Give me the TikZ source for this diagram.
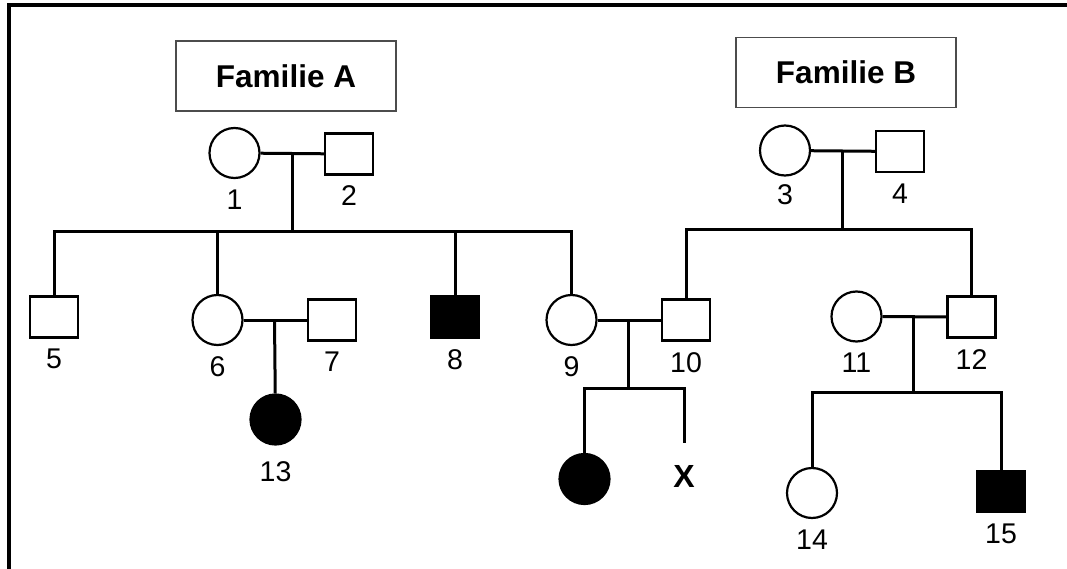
\documentclass[tikz,border=0pt]{standalone}
\usepackage{fontspec}
\setmainfont{Liberation Sans}
\usetikzlibrary{positioning}

\begin{document}
\begin{tikzpicture}[x=1pt, y=-1pt, line width=3pt, label distance=9pt,
		female/.style={circle, draw, line width=2.2pt, minimum size=50pt, inner sep=0pt},
		male/.style={rectangle, draw, line width=2.2pt, minimum width=48pt, minimum height=41pt, inner sep=0pt},
		ill/.style={fill=black},
		family/.style={draw=black!70, line width=1.2pt, minimum width=220pt, minimum height=70pt, font=\fontsize{31.5}{34}\selectfont\bfseries},
		every label/.style={font=\fontsize{28.5}{30}\selectfont, inner sep=0pt}]
			\useasboundingbox (0,0) rectangle (1067,569);
			\draw[line width=4pt] (9,569) -- (9,5.5) -- (1067,5.5);

			\node[family] (famA) at (286,76) {Familie A};
			\node[family] (famB) at (846,72.5) {Familie B};

			\node[female, label=below:1] (n1) at (234.5,153) {};
			\node[male, label=below:2] (n2) at (349,154) {};
			\node[female, label={[label distance=7pt]below:3}] (n3) at (785,150.5) {};
			\node[male, label=below:4] (n4) at (900,151.5) {};
			\node[male, label=below:5] (n5) at (54,317) {};
			\node[female, label=below:6] (n6) at (217.5,320) {};
			\node[male, label=below:7] (n7) at (332,320) {};
			\node[male, ill, label=below:8] (n8) at (455,317) {};
			\node[female, label=below:9] (n9) at (571.5,320) {};
			\node[male, label=below:10] (n10) at (686,320) {};
			\node[female, label=below:11] (n11) at (856.5,316.5) {};
			\node[male, label=below:12] (n12) at (971.5,317) {};
			\node[female, ill, label={[label distance=14pt]below:13}] (n13) at (275.5,419.5) {};
			\node[female, label=below:14] (n14) at (812,493) {};
			\node[male, ill, label=below:15] (n15) at (1001,491.5) {};
			\node[female, ill] (d1) at (584.5,479) {};
			\node[inner sep=0pt, font=\fontsize{32}{34}\selectfont\bfseries] (x) at (684,476) {X};

			\coordinate (m12) at (292,153);
			\coordinate (sA) at (292,232);
			\coordinate (m34) at (842,151);
			\coordinate (sB) at (842,230);
			\coordinate (m67) at (274.5,320);
			\coordinate (m910) at (628,320);
			\coordinate (s910) at (628,388);
			\coordinate (m1112) at (913,315);
			\coordinate (s1112) at (913,392);

			\draw (n1) -- (n2);
			\draw (m12) -- (sA);
			\draw (n5.north) |- (sA) -| (n9.north);
			\draw (n6.north) -- (n6.north |- sA);
			\draw (n8.north) -- (n8.north |- sA);
			\draw (n6) -- (n7);
			\draw (m67) -- (n13);

			\draw (n3) -- (n4);
			\draw (m34) -- (sB);
			\draw (n10.north) |- (sB) -| (n12.north);

			\draw (n9) -- (n10);
			\draw (m910) -- (s910);
			\draw (d1.north) |- (s910) -| ([yshift=20pt]x.north);

			\draw (n11) -- (n12);
			\draw (m1112) -- (s1112);
			\draw (n14.north) |- (s1112) -| (n15.north);
		\end{tikzpicture}
\end{document}
